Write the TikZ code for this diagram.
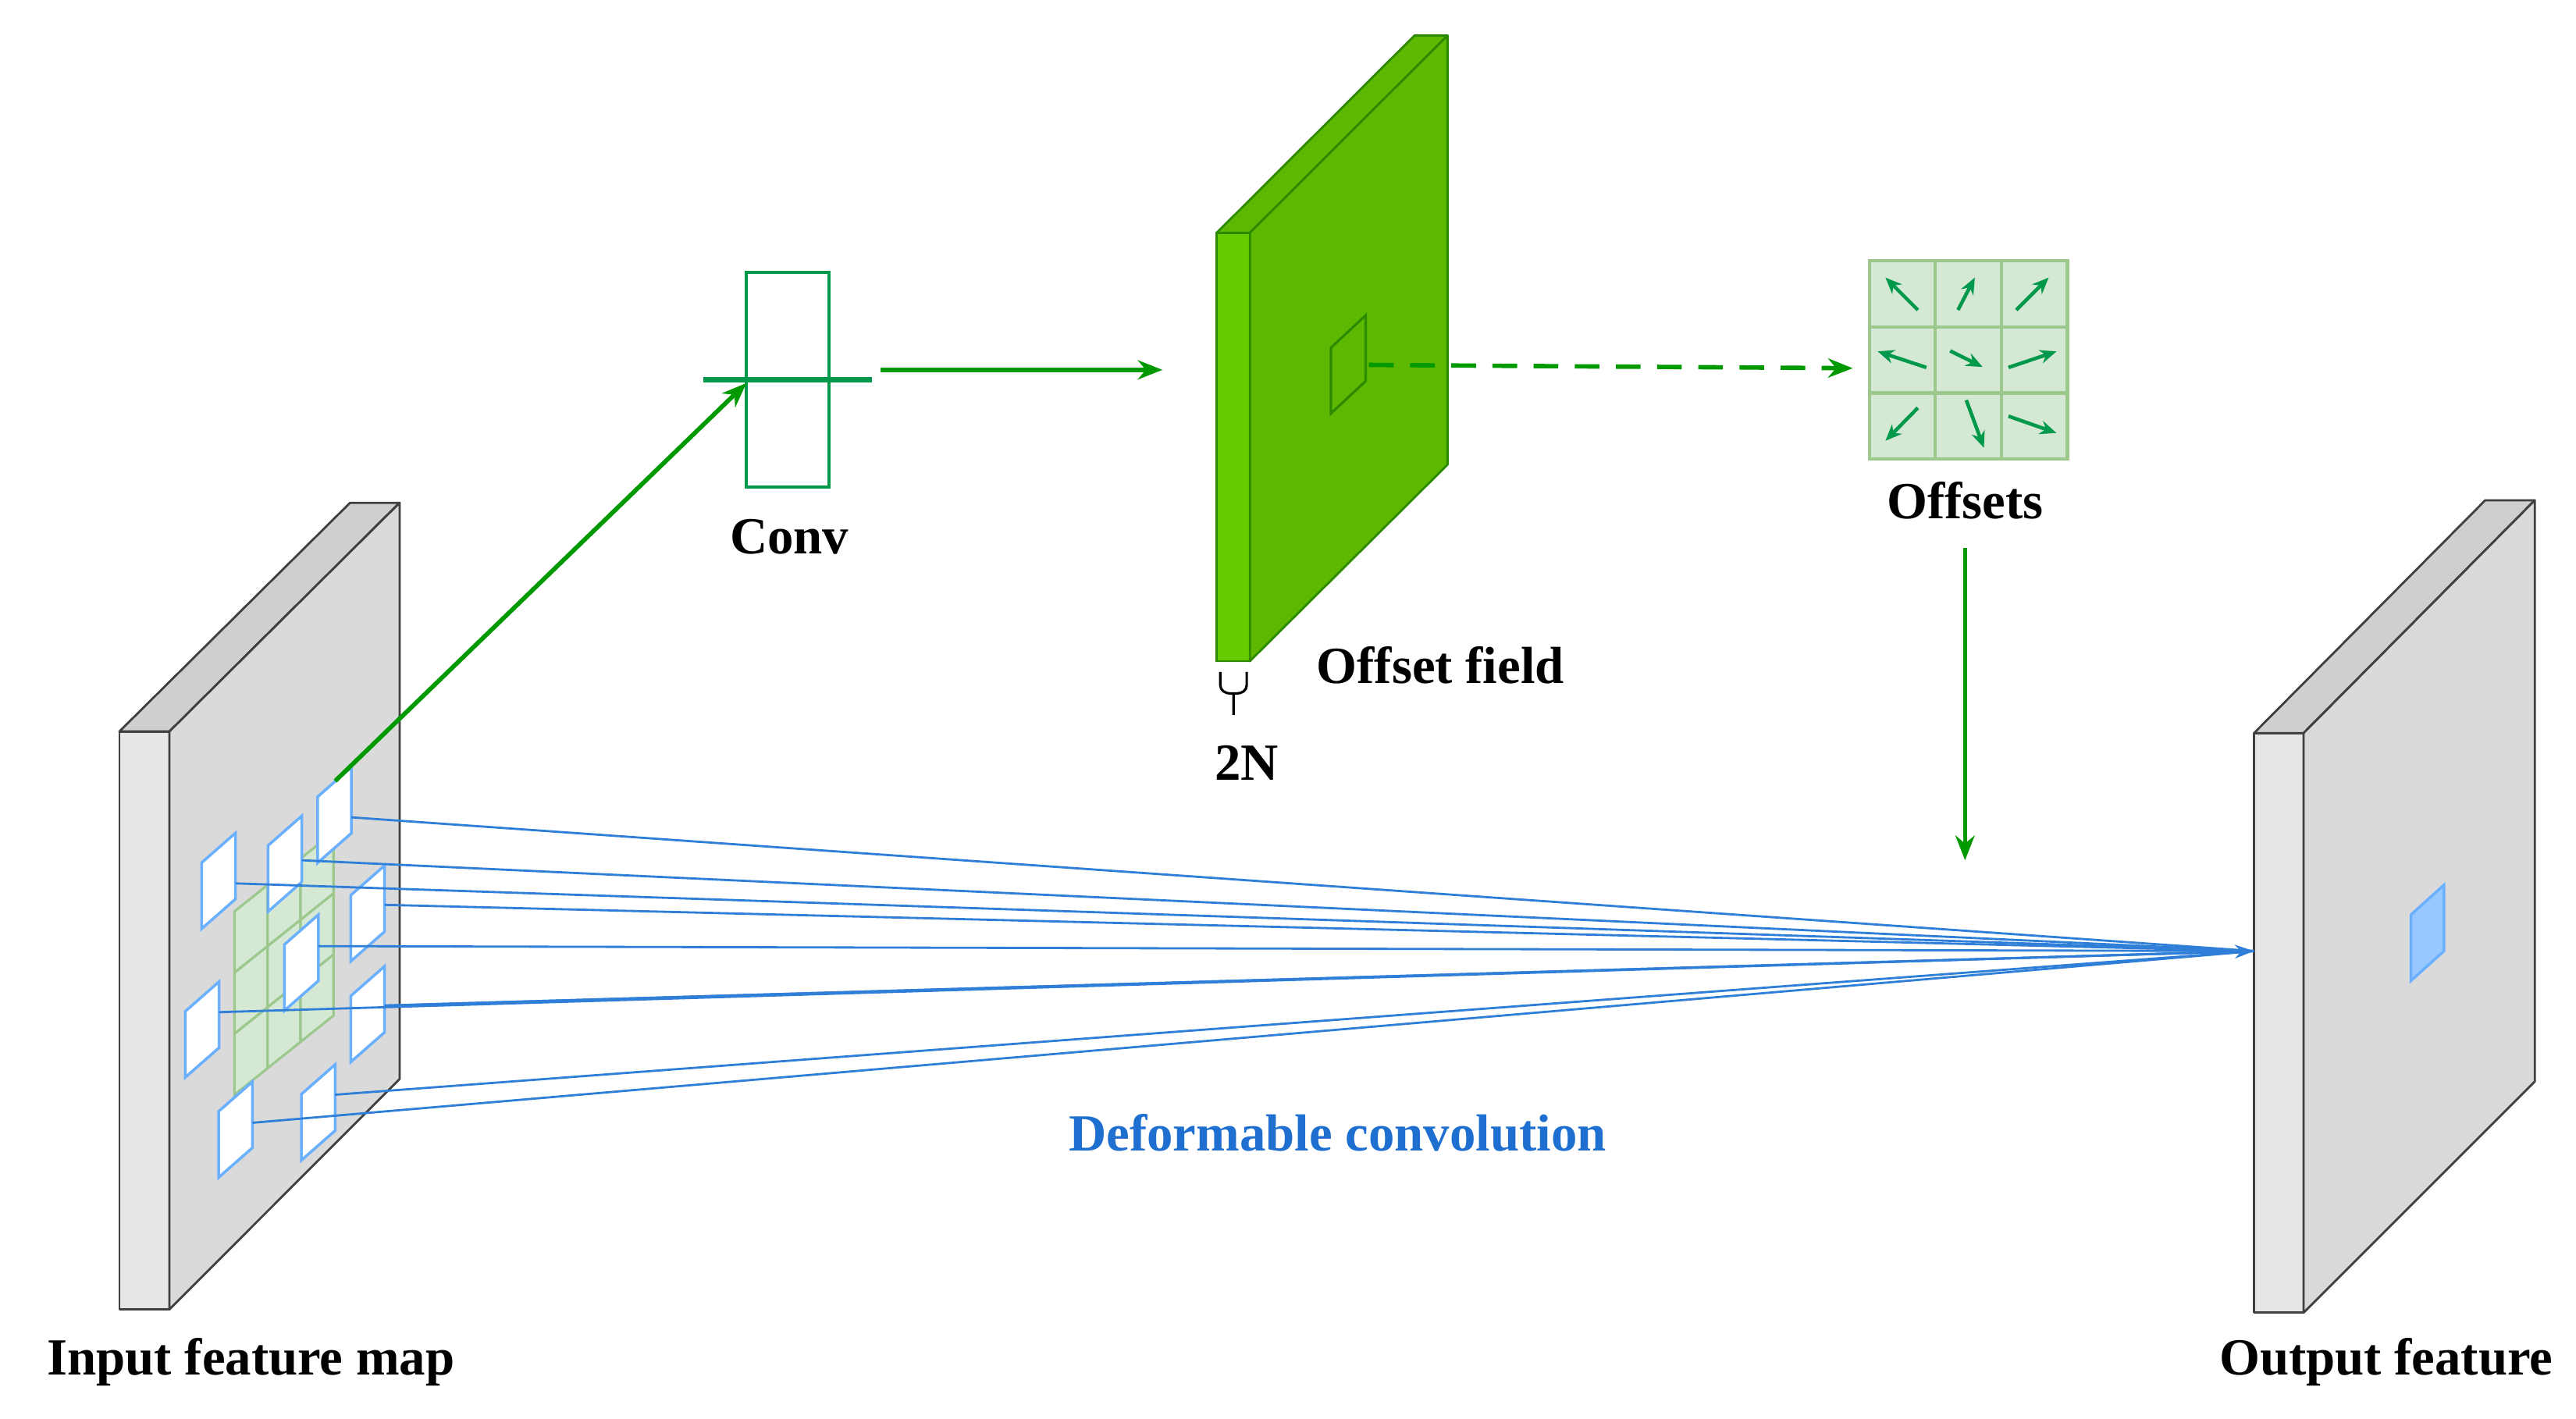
\documentclass[tikz,border=0pt]{standalone}
\usepackage{fontspec}
\setmainfont{Liberation Serif}
\usetikzlibrary{arrows.meta}
\definecolor{gface}{HTML}{DADADA}
\definecolor{gside}{HTML}{E6E6E6}
\definecolor{gtop}{HTML}{CFCFCF}
\definecolor{lgreen}{HTML}{66CC00}
\definecolor{mgreen}{HTML}{5CB800}
\definecolor{dgreen}{HTML}{2D8A00}
\definecolor{agreen}{HTML}{009900}
\definecolor{ogreen}{HTML}{00994C}
\definecolor{cellfill}{HTML}{D5E8D4}
\definecolor{celledge}{HTML}{9DC88D}
\definecolor{bline}{HTML}{2F7FD8}
\definecolor{bpatch}{HTML}{6AB0FF}
\definecolor{btext}{HTML}{1E6FD0}
\begin{document}
\begin{tikzpicture}[x=0.02115cm,y=-0.02115cm,
  lbl/.style={font=\fontsize{19}{22}\selectfont\bfseries, inner sep=0pt},
  slab/.style={draw=black!75, line width=0.8pt, line join=round},
  garrow/.style={draw=agreen, line width=1.6pt, -{Stealth[length=9pt,width=7pt]}},
  oarrow/.style={draw=ogreen, line width=1.3pt, -{Stealth[length=6pt,width=5pt]}},
  blink/.style={draw=bline, line width=0.8pt},
  patch/.style={draw=bpatch, line width=1pt, fill=white}]
\useasboundingbox (0,0) rectangle (1560,859);
% ---------- input feature map ----------
\fill[gtop,slab] (72.3,443) -- (102.6,443) -- (242,304.5) -- (212,304.5) -- cycle;
\fill[gside,slab] (72.3,443) rectangle (102.6,793);
\fill[gface,slab] (102.6,443) -- (242,304.5) -- (242,653.5) -- (102.6,793) -- cycle;
% green 3x3 grid
\foreach \i in {0,1,2}{\foreach \j in {0,1,2}{
  \draw[fill=cellfill, draw=celledge, line width=0.9pt]
   ({142+20*\i},{663-16*\i-37*\j}) -- ++(20,-16) -- ++(0,-37) -- ++(-20,16) -- cycle;}}
% patches
\foreach \x/\y in {122.1/562.5,162.3/552.1,192.3/522.6,212.4/582.2,172.3/612,112.2/652.5,212.4/643.2,132.4/713.1,182.5/702.7}{
  \draw[patch] (\x,\y) -- ++(20.5,-18) -- ++(0,-40) -- ++(-20.5,18) -- cycle;}
% ---------- output feature ----------
\fill[gtop,slab] (1365,444) -- (1395,444) -- (1535,303) -- (1505,303) -- cycle;
\fill[gside,slab] (1365,444) rectangle (1395,795);
\fill[gface,slab] (1395,444) -- (1535,303) -- (1535,655) -- (1395,795) -- cycle;
\draw[fill=bpatch!70, draw=bpatch, line width=1pt] (1460,594) -- (1480,576) -- (1480,536) -- (1460,554) -- cycle;
\coordinate (out) at (1365,576);
% blue connectors
\foreach \x/\y in {212.8/495,182.8/521,142.6/535,232.9/548,192.8/573,132.7/613,232.9/609,202.9/663,152.9/680}{
  \draw[blink] (\x,\y) -- (out);}
\draw[blink,-{Stealth[length=7pt,width=5pt]}] (232.9,609) -- (out);
% ---------- offset field ----------
\fill[mgreen, draw=dgreen, line width=0.8pt, line join=round] (736.8,141) -- (756.9,141) -- (876.6,21.5) -- (856.6,21.5) -- cycle;
\fill[lgreen, draw=dgreen, line width=0.8pt] (736.8,141) rectangle (756.9,400.4);
\fill[mgreen, draw=dgreen, line width=0.8pt, line join=round] (756.9,141) -- (876.6,21.5) -- (876.6,281.4) -- (756.9,400.4) -- cycle;
\draw[dgreen, line width=0.9pt] (806,250.4) -- (827,230.8) -- (827,191) -- (806,210.6) -- cycle;
\draw[black, line width=0.9pt] (739,407) -- (739,415) to[out=-90,in=180] (745,420) -- (747,420) -- (747,433)
   (747,420) -- (749,420) to[out=0,in=-90] (755,415) -- (755,407);
\node[lbl] (twoN) at (755,462) {2N};
\node[lbl, anchor=west] (flab) at (797,403) {Offset field};
% ---------- conv ----------
\node[draw=ogreen, line width=1.2pt, minimum width=50\pgflinewidth, inner sep=0pt] (conv) at (477,230) {};
\draw[ogreen, line width=1.2pt] (452,165) rectangle (502,295);
\coordinate (convL) at (452,232);
\node[lbl] (clab) at (478,325) {Conv};
\coordinate (inS) at (203,473);
\draw[garrow] (inS) -- (convL);
\coordinate (c1) at (533,224); \coordinate (c2) at (704,224);
\draw[garrow] (c1) -- (c2);
\coordinate (d1) at (829,221); \coordinate (d2) at (1122,223);
\draw[garrow, dash pattern=on 9pt off 6pt] (d1) -- (d2);
% ---------- offsets ----------
\foreach \i in {0,1,2}{\foreach \j in {0,1,2}{
  \draw[fill=cellfill, draw=celledge, line width=1.2pt] ({1132+40*\i},{158+40*\j}) rectangle ++(40,40);}}
\foreach \c/\r/\ax/\ay/\bx/\by in {0/0/60/62/-65/-63, 1/0/-40/62/25/-63, 2/0/-70/62/55/-63,
  0/1/93/29/-95/-33, 1/1/-70/-35/55/27, 2/1/-100/29/85/-33,
  0/2/60/-70/-65/57, 1/2/-8/-100/60/84, 2/2/-100/-38/85/27}{
  \draw[oarrow] ({1152+40*\c+0.157*\ax},{178+40*\r+0.157*\ay}) -- ({1152+40*\c+0.157*\bx},{178+40*\r+0.157*\by});}
\node[lbl] (olab) at (1190,303) {Offsets};
\coordinate (o1) at (1190,332); \coordinate (o2) at (1190,521);
\draw[garrow] (o1) -- (o2);
% ---------- labels ----------
\node[lbl] (inlab) at (152,825) {Input feature map};
\node[lbl] (outlab) at (1445,825) {Output feature};
\node[lbl, text=btext] (dlab) at (810,686) {Deformable convolution};
\end{tikzpicture}
\end{document}
